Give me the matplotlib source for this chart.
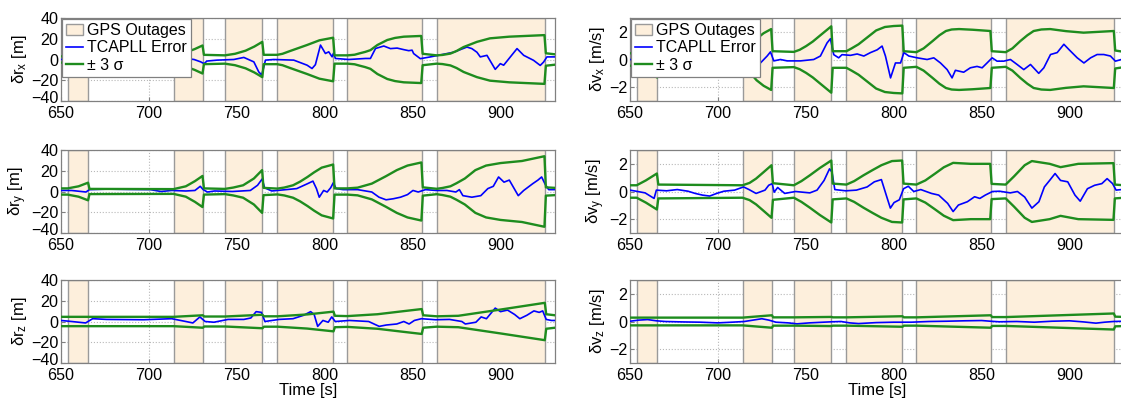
import numpy as np
import matplotlib
matplotlib.use("Agg")
import matplotlib.pyplot as plt
import matplotlib.transforms as mtransforms

plt.rcParams['font.family'] = ['Liberation Sans', 'DejaVu Sans']
plt.rcParams['mathtext.fontset'] = 'custom'
plt.rcParams['mathtext.rm'] = 'Liberation Sans'
plt.rcParams['mathtext.it'] = 'Liberation Sans:italic'

# GPS outage intervals [s]
outage_start = [653.8, 714.0, 743.2, 773.1, 812.9, 863.7]
outage_end = [665.6, 730.7, 764.6, 805.0, 855.2, 925.2]

# ---- position, x ----
t_sig_rx = [650, 653.8, 660, 665.4, 666.2, 714, 718, 722, 726, 730.5, 731.3, 743.2, 749, 755, 760,
            764.5, 765.3, 773, 776, 780, 785, 790, 797, 804.8, 805.6, 813, 817, 820, 823, 826, 830,
            835.6, 840, 845, 854.9, 855.7, 863.7, 867, 871.5, 875, 879, 886.6, 894, 905, 925,
            925.8, 931]
sig_rx = [3, 3, 4.5, 7.5, 3, 3, 5, 7.5, 10, 13.5, 4.5, 4, 5.5, 8.5, 12.5,
          17, 4.5, 4.5, 5.5, 8, 11, 14, 18.5, 21, 4, 4, 4.6, 6, 7.3, 9, 14,
          18.8, 20.8, 22, 22.7, 5.5, 4, 4.4, 5.7, 8.2, 12, 17, 20.4, 22, 23.5,
          6, 5]
t_err_rx = [650, 655, 660, 665, 670, 680, 690, 700, 710, 716, 721, 725.7, 729.5, 731.4, 733, 738.8,
            748.3, 754, 759.7, 762.5, 764.2, 766.3, 771, 782.4, 790, 792.8, 794.7, 797.6, 800.4,
            802.3, 804.2, 805, 806.1, 813.7, 823.2, 826, 828.9, 833.6, 837.4, 841.2, 845, 847.8,
            849.7, 850.6, 854.4, 860.1, 869.5, 873.3, 880.9, 883.7, 886.6, 888.5, 892.3, 897,
            899.9, 901.8, 909.4, 913.2, 918.8, 922.6, 924.5, 926.4, 931]
err_rx = [0, 1, -1, 0, 1, 0, 1, 0, 1, 2, 1, 0, -2.3, -4, -1.5, -0.6,
          0, 2, -2.3, -12, -15, -0.6, 0, -0.6, -5.5, -8.7, -5, 13.9, 5.8,
          7.4, 2.6, 6, 1, 0, 1, 1, 10.6, 13, 10.5, 11, 9.5, 8.5,
          9, 5.7, 0.8, 2.5, 5.7, 7, 12, 10.5, 7, 2.5, 4, -9.5,
          -4, -5.5, 10.5, 4, -0.8, -5.7, -2.5, 2.5, 2.5]

# ---- position, y ----
t_sig_ry = [650, 653.8, 660, 665.4, 666.2, 714, 721, 726.2, 730.5, 731.3, 743.2, 748, 753.6, 759.7,
            764.4, 765.2, 773.1, 777, 782, 786, 790.2, 794, 798.3, 804.8, 805.6, 812.9, 818.7,
            826.8, 834.9, 841, 847.1, 855, 855.8, 863.7, 867, 871.5, 875, 879.7, 885.7, 891.8,
            900, 912.2, 925, 925.8, 931]
sig_ry = [3, 3, 5, 8.5, 2.5, 2.3, 5, 10, 15, 3, 2.5, 3.8, 6, 12.5,
          20.6, 3.5, 2.8, 3.8, 6, 9.5, 14, 18.5, 23, 26, 3, 3, 3.7,
          7.6, 14.8, 20.6, 25, 28, 4, 2.6, 3.4, 5, 8, 12.5, 20.6, 25,
          27.4, 29.4, 34, 4, 3.5]
t_err_ry = [650, 656, 664.2, 666.2, 676.4, 688.6, 700.8, 706.9, 713, 721, 726.2, 729.2, 730.9, 733.3,
            737.4, 747.5, 757.7, 761.8, 764.4, 765.8, 769.9, 778, 784.1, 790.2, 793.3, 795.3, 796.9,
            799.4, 801.4, 803.4, 804.9, 806.5, 810.5, 818.7, 826.8, 830.9, 834.9, 839, 843.1, 847.1,
            850.2, 853.2, 857.3, 863.4, 869.5, 874.6, 876.6, 878.6, 883.7, 888.8, 892.8, 895.9,
            898.9, 902, 905, 910.1, 913.2, 918.3, 921.3, 923.4, 925.4, 927.4, 931]
err_ry = [1, 1, -0.5, 1.8, 2.3, 2, 1.8, 0, 1, 0.5, 1, 5, 1.8, -0.5,
          0.5, 0, 1, 6, 12, 3.6, 0.5, 1.8, 2.8, 7.5, 10, 2.8, -5.5,
          1, -0.5, 3.6, 8.4, 2.8, 1.8, 1.8, -0.5, -5.5, -8, -7, -5.5, -3,
          1, -0.5, 1.8, 1, 1, -0.5, 1.8, -4, -5.5, -4, 2.8, 5,
          14, 9, 11, -4, 1, 7.5, 11, 14, 7, 1.8, 1.8]

# ---- position, z ----
t_sig_rz = [650, 714, 730.7, 731.5, 743.2, 764.6, 765.4, 773.1, 790, 805, 805.8, 812.9, 830, 845,
            855.2, 856, 863.7, 876, 900, 925.2, 926, 931]
sig_rz = [4.5, 4.5, 6, 4.8, 4.8, 6.5, 5, 5, 6.8, 9.5, 5.5, 5.2, 7, 10,
          12, 6, 5, 5.5, 11.5, 18, 7, 6]
t_err_rz = [650, 656, 664, 668, 676, 697, 713, 721, 725, 729, 732, 737, 745, 754, 758, 761, 764,
            766, 774, 782, 788, 792, 794, 796, 799, 802, 804, 806, 814, 825, 831, 835, 841, 845,
            848, 851, 855, 863, 871, 878, 880, 886, 889, 892, 897, 900, 904, 908, 911, 915, 919,
            922, 924, 926, 929, 931]
err_rz = [1, 0, -1.4, 2.7, 2, 1.7, 2.7, 0, -1.4, 4.4, 0, -0.7, 2, 2, 3.4, 9.5, 8.8,
          0, 2, 2.7, 6, 9.5, 6.8, -4.7, 1, -0.7, 4.4, 0, 1, 0, -4.7, -3.4, -2.4, 0,
          -2.4, 1, 2.7, 1.7, 2, 0, -2.4, -0.7, 4.4, 2.7, 12.9, 9.5, 11, 6.8, 2.7, 6, 10.2,
          8.8, 10.2, 2, 1, 1]

# ---- velocity, x ----
t_sig_vx = [650, 653.8, 659, 665.4, 666.2, 714, 718, 722, 726, 730.3, 731.1, 743.2, 746.5, 750.2,
            754, 757.8, 764.5, 765.3, 773.1, 776, 780, 785, 790, 795, 800, 804.9, 805.7, 812.9,
            817, 822.1, 826, 829.7, 833, 837.2, 845, 855, 855.8, 863.7, 867.5, 872, 876, 879.6,
            884, 889, 898, 908, 925.2, 926, 931]
sig_vx = [0.45, 0.45, 0.8, 1.3, 0.5, 0.5, 0.9, 1.5, 1.9, 2.2, 0.6, 0.55, 0.7, 0.97,
          1.3, 1.7, 2.4, 0.6, 0.6, 0.8, 1.1, 1.6, 2.1, 2.35, 2.42, 2.45, 0.6, 0.53,
          0.8, 1.33, 1.75, 2.06, 2.17, 2.2, 2.15, 2.06, 0.6, 0.53, 0.8, 1.33, 1.75, 2.06,
          2.17, 2.2, 2.05, 1.94, 2.06, 0.65, 0.55]
t_err_vx = [650, 660, 670, 690, 710, 716, 721.4, 724.2, 728, 729.9, 731.8, 735.6, 739.4, 747,
            754.5, 758.3, 762.1, 764, 765.9, 768.7, 770.6, 775.4, 779.2, 783, 786.8, 790.6,
            793.4, 795.3, 798.2, 801, 803.9, 805.8, 808.6, 813.4, 819, 822.8, 826.6, 830.4,
            833.2, 835.1, 839.8, 843.6, 847.4, 850.3, 853.1, 856, 858.8, 862.6, 866.4, 870.2,
            874, 877.8, 882.5, 885.4, 889.2, 893, 896.8, 899.6, 904.4, 908.2, 912, 915.7,
            919.5, 923.3, 926.1, 929.5, 931]
err_vx = [0, -0.1, 0.1, 0, -0.2, -0.5, -0.6, -0.25, 0.25, 0.55, -0.1, 0, -0.1, -0.1,
          0, 0.25, 1.2, 1.5, 0.35, 0.12, 0.35, 0.3, 0.4, 0.25, 0.5, 0.7,
          0.97, 0.25, -1.33, -0.25, -0.25, 0.5, 0.25, 0.12, 0, 0.12, -0.25, -0.73,
          -1.33, -0.78, -0.92, -0.6, -0.5, -0.6, -0.25, 0.12, -0.12, -0.12, 0, -0.36,
          -0.73, -0.36, -1.0, -0.6, 0.36, 0.5, 1.1, 0.73, 0.12, -0.25, 0.12, 0.36,
          0.36, 0.25, -0.12, 0, 0]

# ---- velocity, y ----
t_sig_vy = [650, 653.8, 659, 665.3, 666.1, 714, 718, 721.7, 726, 730.5, 731.3, 743.2, 747.5, 752.3,
            758, 764.5, 765.3, 773.1, 777.5, 782.8, 788, 793, 799, 804.8, 805.6, 812.9, 818,
            823.6, 828.5, 833.8, 843.9, 854.9, 855.7, 863.7, 868.5, 874.5, 878.6, 888.7, 894.9,
            905, 925, 925.8, 931]
sig_vy = [0.45, 0.45, 0.8, 1.3, 0.5, 0.45, 0.62, 0.93, 1.4, 1.9, 0.6, 0.45, 0.75, 1.17,
          1.7, 2.24, 0.57, 0.5, 0.75, 1.17, 1.55, 1.9, 2.2, 2.24, 0.57, 0.5, 0.8,
          1.3, 1.75, 2.07, 2.0, 2.0, 0.55, 0.5, 1.1, 1.9, 2.2, 2.0, 1.76,
          2.0, 2.05, 0.5, 0.45]
t_err_vy = [650, 653.5, 658.6, 663.7, 665, 670.8, 676.9, 683, 687.1, 691.2, 695.3, 699.3, 703.4,
            709.5, 714.6, 717.7, 721.7, 726.8, 728.9, 730.9, 732, 734, 738, 744.1, 752.3, 756.4,
            760.4, 763.5, 764.9, 766.5, 772.7, 778.8, 784.9, 789, 793, 796.1, 798.1, 800.2,
            803.2, 805.6, 808.3, 811.4, 815.4, 821.5, 825.6, 830.7, 833.8, 836.8, 841.9, 846,
            849, 852.1, 856.2, 860.2, 866.3, 870.4, 874.5, 878.6, 882.6, 885.7, 888.7, 891.8,
            894.9, 899, 903.1, 906.1, 910.2, 914.3, 918.4, 921.4, 924.5, 926.5, 929.6, 931]
err_vy = [0.1, 0.02, -0.1, -0.5, 0.1, 0.05, 0.14, 0.02, -0.14, -0.26, -0.33, -0.14, 0.02,
          0.1, 0.33, 0.14, -0.14, 0.1, 0.45, 0.57, -0.05, 0.29, -0.14, 0, -0.1, 0.1,
          0.8, 1.64, 1.4, 0.14, 0.05, 0.1, 0.33, 0.7, 0.86, -0.4, -1.2, -0.8,
          -0.6, 0.2, 0.38, 0, 0.14, -0.14, -0.26, -0.86, -1.45, -0.98, -0.74, -0.38,
          -0.5, -0.26, 0, 0.02, -0.1, 0, -0.4, -1.2, -0.74, 0.33, 0.8, 1.3,
          0.8, 0.7, -0.26, -0.7, 0.2, 0.45, 0.57, 0.93, 0.57, 0.1, 0.14, 0.1]

# ---- velocity, z ----
t_sig_vz = [650, 714, 730.7, 731.5, 743.2, 764.6, 765.4, 773.1, 805, 805.8, 812.9, 855.2, 856,
            863.7, 925.2, 926, 931]
sig_vz = [0.28, 0.28, 0.45, 0.3, 0.3, 0.33, 0.3, 0.3, 0.38, 0.3, 0.3, 0.45, 0.32,
          0.32, 0.58, 0.35, 0.33]
t_err_vz = [650, 655, 660, 665, 670, 680, 690, 700, 708, 715, 720, 725, 729, 733, 740, 745, 752,
            760, 765, 770, 775, 780, 790, 800, 810, 820, 830, 840, 850, 855, 860, 870, 880,
            890, 900, 908, 915, 920, 925, 931]
err_vz = [0.02, 0.1, 0.14, 0.05, 0, -0.03, -0.05, -0.1, -0.05, 0, 0.1, 0.2, 0.1, -0.05, -0.1,
          -0.17, -0.1, -0.05, -0.02, 0, -0.1, -0.15, -0.08, -0.05, -0.05, 0, 0.02, 0.05, 0.07,
          0.02, -0.02, 0, -0.05, 0.02, 0.05, -0.03, -0.12, -0.05, 0, 0.02]

panels = [
    # (col, row, t_sig, sig, t_err, err, ylabel, ylim, yticks)
    (0, 0, t_sig_rx, sig_rx, t_err_rx, err_rx, r'δr$_{\mathrm{x}}$ [m]', (-40, 40), [-40, -20, 0, 20, 40]),
    (0, 1, t_sig_ry, sig_ry, t_err_ry, err_ry, r'δr$_{\mathrm{y}}$ [m]', (-40, 40), [-40, -20, 0, 20, 40]),
    (0, 2, t_sig_rz, sig_rz, t_err_rz, err_rz, r'δr$_{\mathrm{z}}$ [m]', (-40, 40), [-40, -20, 0, 20, 40]),
    (1, 0, t_sig_vx, sig_vx, t_err_vx, err_vx, r'δv$_{\mathrm{x}}$ [m/s]', (-3, 3), [-2, 0, 2]),
    (1, 1, t_sig_vy, sig_vy, t_err_vy, err_vy, r'δv$_{\mathrm{y}}$ [m/s]', (-3, 3), [-2, 0, 2]),
    (1, 2, t_sig_vz, sig_vz, t_err_vz, err_vz, r'δv$_{\mathrm{z}}$ [m/s]', (-3, 3), [-2, 0, 2]),
]

W, H = 1121, 399
fig = plt.figure(figsize=(W / 100, H / 100), dpi=100)

col_left = [61, 630]
ax_w = 494
row_top = [18, 150, 280]
ax_h = 83

patch_col = '#fdefdc'
green = '#1e8c1e'
gray = '#808080'

for col, row, ts, sg, te, er, ylab, ylim, yt in panels:
    ax = fig.add_axes([col_left[col] / W, 1 - (row_top[row] + ax_h) / H, ax_w / W, ax_h / H])
    ax.set_axisbelow(True)
    for a, b in zip(outage_start, outage_end):
        sp = ax.axvspan(a, b, facecolor=patch_col, edgecolor='#9a9a9a', lw=1.0, zorder=1)
    ts = np.array(ts)
    sg = np.array(sg)
    ln_e, = ax.plot(te, er, color='#0000ff', lw=1.2, zorder=3)
    ln_s, = ax.plot(ts, sg, color=green, lw=1.7, zorder=4)
    ax.plot(ts, -sg, color=green, lw=1.7, zorder=4)
    ax.set_xlim(650, 931)
    ax.set_ylim(*ylim)
    ax.set_xticks([650, 700, 750, 800, 850, 900])
    ax.set_yticks(yt)
    ax.grid(True, color='#b8b8b8', linestyle=':', linewidth=0.8)
    ax.tick_params(direction='in', length=3, color=gray, labelsize=11.6, pad=2)
    ax.tick_params(axis='x', pad=3.5)
    for s in ax.spines.values():
        s.set_color(gray)
        s.set_linewidth(0.9)
    ax.set_ylabel(ylab, fontsize=12, labelpad=1)
    if col == 0:
        # nudge the bottom tick label (-40) up so it does not run into "650"
        lab = ax.get_yticklabels()[0]
        lab.set_transform(lab.get_transform() + mtransforms.ScaledTranslation(0, 3 / 72, fig.dpi_scale_trans))
    if row == 2:
        ax.set_xlabel('Time [s]', fontsize=12, labelpad=0)
    if row == 0:
        leg = ax.legend([sp, ln_e, ln_s], ['GPS Outages', 'TCAPLL Error', '± 3 σ'],
                        loc='upper left', fontsize=11.5, fancybox=False, framealpha=1,
                        edgecolor=gray, borderaxespad=0.05, borderpad=0.25, handlelength=1.1,
                        handletextpad=0.25, labelspacing=0.15)
        leg.get_frame().set_linewidth(0.9)

fig.savefig('out.png', dpi=100)
